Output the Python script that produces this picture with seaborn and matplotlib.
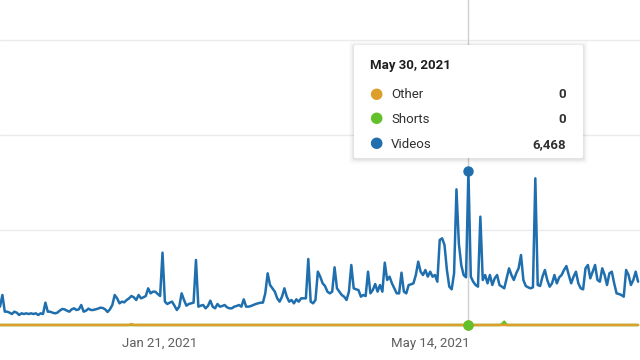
import pandas as pd
import seaborn as sns
import matplotlib.pyplot as plt
from matplotlib.patches import FancyBboxPatch

# daily views, first day 2020-11-15
start_day = "2020-11-15"
videos = [
    772, 1263, 561, 561, 519, 463, 561, 519, 421, 491,
    463, 491, 463, 491, 463, 491, 421, 491, 463, 941,
    561, 561, 519, 491, 519, 604, 674, 660, 604, 561,
    660, 702, 632, 660, 842, 561, 604, 688, 632, 632,
    660, 688, 730, 716, 660, 547, 660, 842, 1263, 1123,
    912, 983, 955, 1053, 1123, 1221, 1165, 1053, 1263, 1123,
    1165, 1221, 1544, 1333, 1403, 1403, 1305, 1221, 3045, 983,
    884, 941, 983, 814, 632, 772, 1333, 1053, 814, 884,
    912, 941, 2737, 772, 814, 842, 702, 800, 1025, 772,
    702, 884, 772, 800, 842, 744, 702, 702, 772, 800,
    842, 772, 1081, 772, 772, 800, 842, 884, 912, 941,
    941, 1333, 2175, 1684, 1544, 1403, 1123, 983, 1193, 1544,
    1193, 983, 1053, 912, 1081, 983, 1123, 1123, 1123, 2779,
    983, 912, 1053, 2245, 2035, 1754, 1642, 1403, 1333, 1403,
    2428, 1544, 1403, 1263, 1193, 1053, 1403, 2526, 1544, 1502,
    1473, 1193, 1263, 1221, 2245, 1333, 1473, 1726, 1403, 1684,
    1403, 2625, 1895, 2035, 1754, 1544, 1333, 1333, 2203, 1403,
    1333, 1684, 1712, 1754, 2105, 2667, 2245, 2105, 2316, 2035,
    2245, 2035, 2105, 1824, 3579, 3649, 3368, 2316, 1614, 1502,
    2175, 5712, 3438, 2526, 2105, 2007, 6468, 2035, 1824, 1684,
    1614, 4561, 1895, 2105, 1754, 2105, 1684, 1965, 2105, 1684,
    1614, 1544, 1965, 2386, 2105, 1895, 2175, 2386, 2947, 1895,
    1642, 1586, 1544, 1586, 6175, 1684, 1642, 2035, 2316, 1895,
    1614, 1754, 2105, 1754, 2007, 2105, 2316, 2484, 2105, 1754,
    2035, 2245, 1754, 1544, 1502, 2386, 2526, 1965, 2245, 2526,
    1895, 1824, 2386, 2105, 1684, 2175, 2245, 1754, 1333, 1305,
    1263, 1193, 2316, 2105, 1684, 1895, 2245, 1824,
]
shorts = [0] * 210 + [30, 140] + [0] * 56
other = [0] * 55 + [40] + [0] * 212

tick_days = ["2021-01-21", "2021-05-14"]
tick_labels = ["Jan 21, 2021", "May 14, 2021"]
hover_day = "2021-05-30"

c_videos = "#1f6fae"
c_shorts = "#62c02b"
c_other = "#dd9f2c"

df = pd.DataFrame({
    "date": pd.date_range(start_day, periods=len(videos), freq="D"),
    "Videos": videos,
    "Shorts": shorts,
    "Other": other,
})

sns.set_theme(style="white")
plt.rcParams["font.family"] = ["Roboto", "DejaVu Sans"]

fig = plt.figure(figsize=(6.4, 3.6), dpi=100)
ax = fig.add_axes([0, 35 / 360, 1, 325 / 360])

sns.lineplot(data=df, x="date", y="Videos", color=c_videos, lw=1.8, ax=ax, clip_on=False)
sns.lineplot(data=df, x="date", y="Shorts", color=c_shorts, lw=1.8, ax=ax, clip_on=False)
sns.lineplot(data=df, x="date", y="Other", color=c_other, lw=1.8, ax=ax, clip_on=False)

t0 = pd.Timestamp(start_day)
ax.set_xlim(t0, t0 + pd.Timedelta(days=267.8))
ax.set_ylim(0, 13684)

ax.set_yticks([4000, 8000, 12000])
ax.yaxis.grid(True, color="#ebebeb", lw=1)
ax.tick_params(axis="y", length=0, labelleft=False)
ax.set_xticks(pd.to_datetime(tick_days))
ax.set_xticklabels(tick_labels, fontsize=9.5, color="#5f5f5f")
ax.tick_params(axis="x", length=0, pad=8.5)
ax.set_xlabel("")
ax.set_ylabel("")
sns.despine(ax=ax, left=True, bottom=True)

# hover
hd = pd.Timestamp(hover_day)
row = df[df["date"] == hd].iloc[0]
ax.axvline(hd, color="#d0d0d0", lw=1, zorder=1)
ax.plot([hd], [row["Videos"]], "o", color=c_videos, ms=6.5, zorder=5, clip_on=False)
ax.plot([hd], [row["Other"]], "o", color=c_other, ms=6.5, zorder=5, clip_on=False)
ax.plot([hd], [row["Shorts"]], "o", color=c_shorts, ms=6.5, zorder=6, clip_on=False)

# tooltip card
bx, by, bw, bh = 354 / 640, 202 / 360, 229 / 640, 113 / 360
for k, a in [(5, 0.02), (3, 0.035), (1.5, 0.05)]:
    fig.patches.append(FancyBboxPatch(
        (bx - k / 640, by - (k + 1) / 360), bw + 2 * k / 640, bh + 2 * k / 360,
        boxstyle="round,pad=0,rounding_size=0.006", transform=fig.transFigure,
        facecolor="#000000", edgecolor="none", alpha=a, zorder=2))
fig.patches.append(FancyBboxPatch(
    (bx, by), bw, bh, boxstyle="round,pad=0,rounding_size=0.004",
    transform=fig.transFigure, facecolor="white", edgecolor="none", zorder=3))

fig.text(370 / 640, 1 - 65.5 / 360, hd.strftime("%b %d, %Y").replace(" 0", " "),
         fontsize=9.5, fontweight="bold", color="#1f1f1f", va="center", zorder=4)
for name, col, y in [("Other", c_other, 94.5), ("Shorts", c_shorts, 119.5), ("Videos", c_videos, 144.5)]:
    yy = 1 - y / 360
    fig.text(376 / 640, 1 - (y - 1.5) / 360, "\u25cf", color=col, fontsize=11, ha="center",
             va="center", family="DejaVu Sans", zorder=4)
    fig.text(391 / 640, yy, name, fontsize=9.5, color="#303030", va="center", zorder=4)
    fig.text(566 / 640, yy, f"{int(row[name]):,}", fontsize=9.5, fontweight="bold",
             color="#303030", ha="right", va="center", zorder=4)

fig.savefig("out.png", dpi=100)
